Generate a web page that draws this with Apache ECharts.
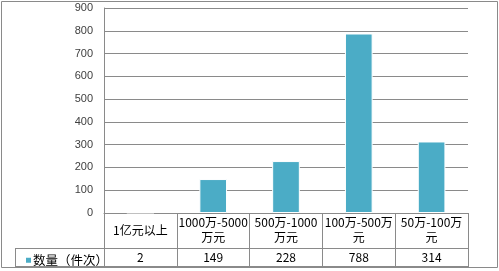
<!DOCTYPE html>
<html lang="zh">
<head>
    <meta charset="UTF-8">
    <title>数量（件次）</title>
    <script src="https://cdn.jsdelivr.net/npm/echarts@6/dist/echarts.min.js"></script>
    <style>
        html, body { margin: 0; padding: 0; background: #fff; }
        #main { width: 499px; height: 271px; }
    </style>
</head>
<body>
<div id="main"></div>
<script>
    // 数据
    var categories = ['1亿元以上', '1000万-5000\n万元', '500万-1000\n万元', '100万-500万\n元', '50万-100万\n元'];
    var values = [2, 149, 228, 788, 314];
    var seriesName = '数量（件次）';
    var yTicks = { min: 0, max: 900, interval: 100 };

    // 布局
    var L = 104, R = 468, T = 8, B = 213;
    var row1 = 248, row2 = 267, legendLeft = 15;
    var lineColor = '#8a8a8a';
    var barColor = '#4bacc6';
    var font = '"Noto Sans CJK SC", "Microsoft YaHei", sans-serif';

    var chart = echarts.init(document.getElementById('main'), null, { renderer: 'canvas' });

    var option = {
        animation: false,
        grid: { left: L, right: 499 - R, top: T, bottom: 271 - B },
        legend: {
            data: [{ name: seriesName, icon: 'rect' }],
            left: legendLeft + 4,
            top: row1 + 1,
            itemWidth: 7,
            itemHeight: 7,
            itemGap: 0,
            textStyle: { fontSize: 12.5, color: '#000', fontFamily: font, padding: [0, 0, 0, -4] }
        },
        xAxis: [{
            type: 'category',
            data: categories,
            axisLine: { show: true, lineStyle: { color: lineColor } },
            axisTick: { show: true, length: row2 - B, alignWithLabel: false, lineStyle: { color: lineColor } },
            axisLabel: {
                interval: 0, margin: 17, verticalAlign: 'middle',
                fontSize: 12, lineHeight: 15, color: '#000', fontFamily: font
            }
        }, {
            type: 'category',
            position: 'bottom',
            data: values.map(String),
            axisLine: { show: false },
            axisTick: { show: false },
            axisLabel: {
                interval: 0, margin: (row1 + row2) / 2 - B, verticalAlign: 'middle',
                fontSize: 12, color: '#000', fontFamily: font
            }
        }],
        yAxis: {
            type: 'value',
            min: yTicks.min, max: yTicks.max, interval: yTicks.interval,
            axisLine: { show: true, lineStyle: { color: lineColor } },
            axisTick: { show: false },
            axisLabel: { margin: 11, fontSize: 11, color: '#404040', fontFamily: 'Liberation Sans, sans-serif' },
            splitLine: { lineStyle: { color: lineColor } }
        },
        series: [{
            name: seriesName,
            type: 'bar',
            xAxisIndex: 0,
            data: values,
            barWidth: '38%',
            itemStyle: { color: barColor, borderColor: '#fff', borderWidth: 1 }
        }],
        graphic: [
            { type: 'rect', shape: { x: 1.5, y: 1.5, width: 496, height: 266 }, style: { fill: null, stroke: lineColor, lineWidth: 1 }, silent: true },
            { type: 'line', shape: { x1: legendLeft, y1: row1 + 0.5, x2: R, y2: row1 + 0.5 }, style: { stroke: lineColor, lineWidth: 1 }, silent: true },
            { type: 'line', shape: { x1: legendLeft, y1: row2 - 0.5, x2: R, y2: row2 - 0.5 }, style: { stroke: lineColor, lineWidth: 1 }, silent: true },
            { type: 'line', shape: { x1: legendLeft + 0.5, y1: row1, x2: legendLeft + 0.5, y2: row2 }, style: { stroke: lineColor, lineWidth: 1 }, silent: true }
        ]
    };
    chart.setOption(option);
</script>
</body>
</html>
